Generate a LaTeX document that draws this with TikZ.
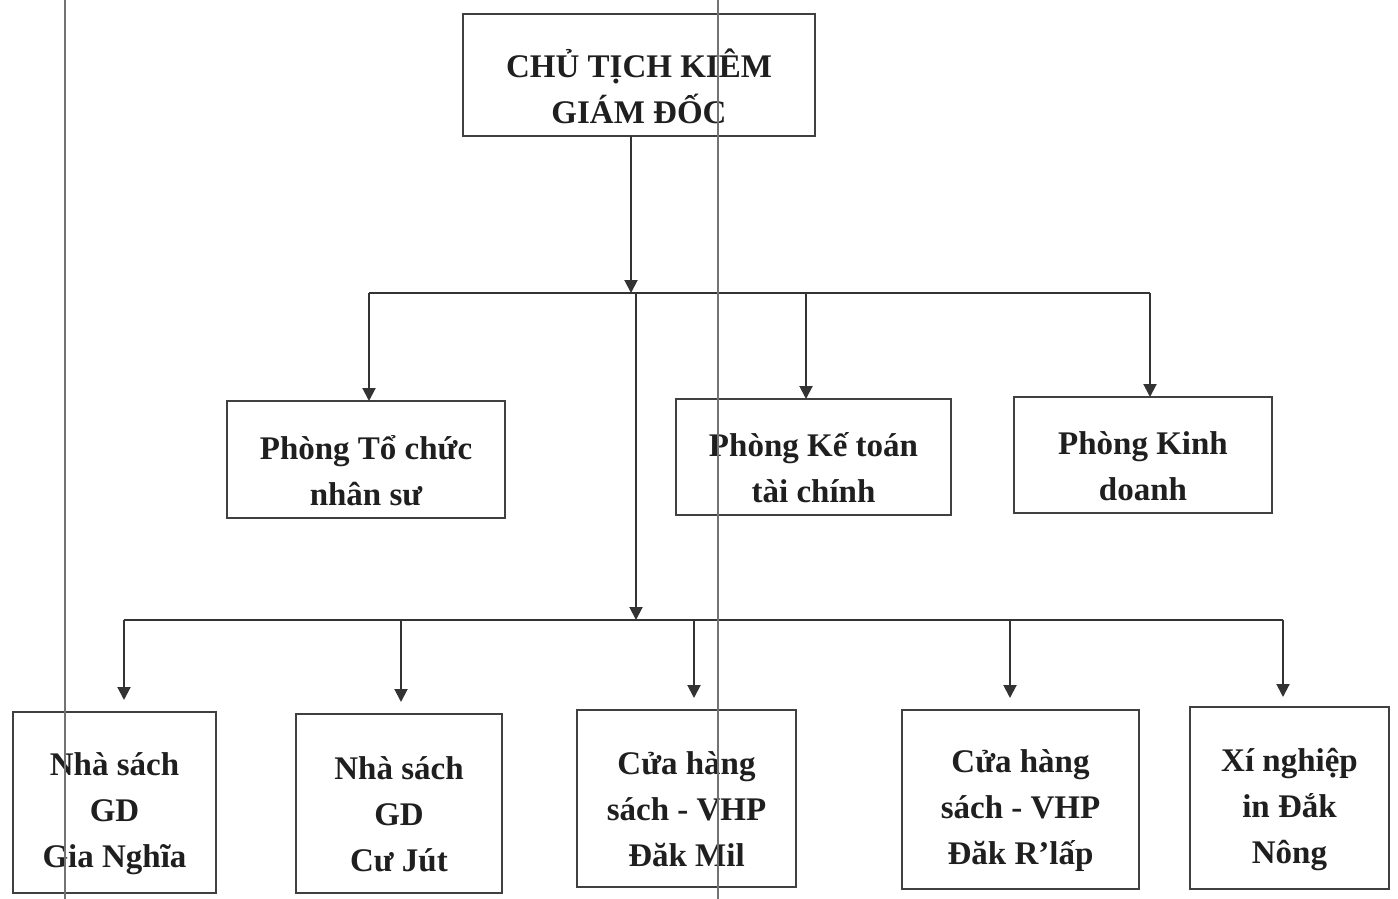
\documentclass[tikz,border=0pt]{standalone}
\usepackage{fontspec}
\setmainfont{Liberation Serif}
\usetikzlibrary{arrows.meta}
\tikzset{
  box/.style={draw=black!75, line width=1pt, inner sep=0pt, outer sep=0pt},
  txt/.style={label={[font=\fontsize{16.5}{23}\selectfont\bfseries, text=black!88,
    align=center, inner sep=0pt, yshift=-5.5pt]center:{#1}}},
  conn/.style={draw=black!80, line width=1pt},
  arr/.style={conn, -{Triangle[width=6.5pt,length=6.5pt]}},
  fold/.style={draw=black!55, line width=1pt}
}
\begin{document}
\begin{tikzpicture}[x=0.5pt,y=-0.5pt]
\useasboundingbox (0,0) rectangle (1398,899);
\fill[white] (0,0) rectangle (1398,899);
% boxes
\node[box, minimum width=176pt, minimum height=61pt, txt={CHỦ TỊCH KIÊM\\GIÁM ĐỐC}] (ceo) at (639,75) {};
\node[box, minimum width=139pt, minimum height=58.5pt, txt={Phòng Tổ chức\\nhân sư}] (tc) at (366,459.5) {};
\node[box, minimum width=137.5pt, minimum height=58pt, txt={Phòng Kế toán\\tài chính}] (kt) at (813.5,457) {};
\node[box, minimum width=129pt, minimum height=58pt, txt={Phòng Kinh\\doanh}] (kd) at (1143,455) {};
\node[box, minimum width=101.5pt, minimum height=90.5pt, txt={Nhà sách\\GD\\Gia Nghĩa}] (gn) at (114.5,802.5) {};
\node[box, minimum width=103pt, minimum height=89.5pt, txt={Nhà sách\\GD\\Cư Jút}] (cj) at (399,803.5) {};
\node[box, minimum width=109.5pt, minimum height=88.5pt, txt={Cửa hàng\\sách - VHP\\Đăk Mil}] (dm) at (686.5,798.5) {};
\node[box, minimum width=118.5pt, minimum height=89.5pt, txt={Cửa hàng\\sách - VHP\\Đăk R’lấp}] (dr) at (1020.5,799.5) {};
\node[box, minimum width=99.5pt, minimum height=91pt, txt={Xí nghiệp\\in Đắk\\Nông}] (xn) at (1289.5,798) {};
% bus 1
\coordinate (t1) at (631,293);
\coordinate (a1) at (369,293);
\coordinate (a2) at (806,293);
\coordinate (a3) at (1150,293);
\draw[arr] (ceo.south -| t1) -- (t1);
\draw[conn] (a1) -- (a3);
\draw[arr] (a1) -- (a1 |- tc.north);
\draw[arr] (a2) -- (a2 |- kt.north);
\draw[arr] (a3) -- (a3 |- kd.north);
% bus 2
\coordinate (s2) at (636,293);
\coordinate (t2) at (636,620);
\coordinate (b1) at (124,620);
\coordinate (b2) at (401,620);
\coordinate (b3) at (694,620);
\coordinate (b4) at (1010,620);
\coordinate (b5) at (1283,620);
\draw[arr] (s2) -- (t2);
\draw[conn] (b1) -- (b5);
\draw[arr] (b1) -- ([yshift=6pt]b1 |- gn.north);
\draw[arr] (b2) -- ([yshift=6pt]b2 |- cj.north);
\draw[arr] (b3) -- ([yshift=6pt]b3 |- dm.north);
\draw[arr] (b4) -- ([yshift=6pt]b4 |- dr.north);
\draw[arr] (b5) -- ([yshift=5pt]b5 |- xn.north);
% scan fold lines
\coordinate (f1t) at (65,0);
\coordinate (f1b) at (65,899);
\coordinate (f2t) at (718,0);
\coordinate (f2b) at (718,899);
\draw[fold] (f1t) -- (f1b);
\draw[fold] (f2t) -- (f2b);
\end{tikzpicture}
\end{document}
